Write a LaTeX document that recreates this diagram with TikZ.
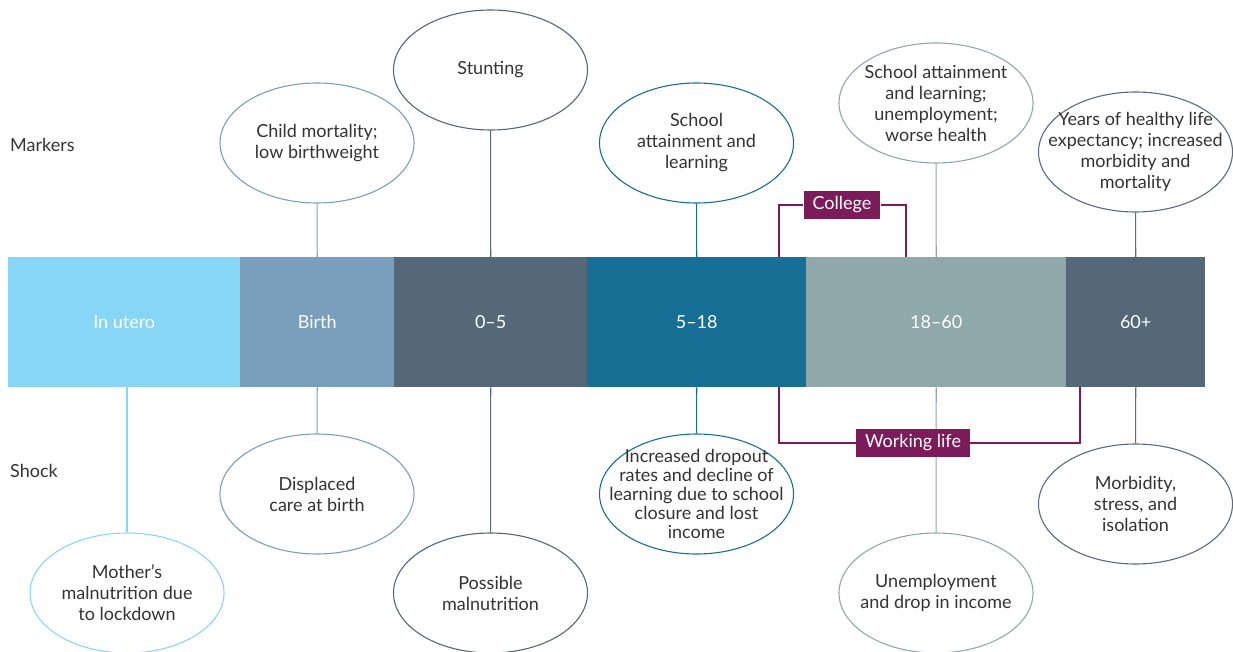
\documentclass[tikz,border=0pt]{standalone}
\usepackage{fontspec}
\setmainfont{Lato}
\usepackage{xcolor}
\usetikzlibrary{shapes.geometric,positioning}

\definecolor{uterocol}{HTML}{87D6F6}
\definecolor{birthcol}{HTML}{7A9FBC}
\definecolor{slatecol}{HTML}{546878}
\definecolor{schoolcol}{HTML}{176F96}
\definecolor{adultcol}{HTML}{8FA8A9}
\definecolor{oldcol}{HTML}{5B6A86}
\definecolor{plumcol}{HTML}{7B1B59}
\definecolor{textcol}{HTML}{333333}

\begin{document}
\begin{tikzpicture}[
        x=1pt, y=-1pt,
        font=\fontsize{18}{21}\selectfont,
        segment/.style={rectangle, anchor=north west, minimum height=130pt, inner sep=0pt, text=white},
        bubble/.style={ellipse, draw, line width=1.1pt, minimum width=194pt, minimum height=120pt, inner sep=-25pt, align=center, text=textcol},
        tie/.style={line width=1.1pt},
        bracket/.style={plumcol, line width=1.2pt},
        tag/.style={rectangle, fill=plumcol, text=white, minimum height=28pt, inner xsep=9pt, inner ysep=0pt}
    ]
        \useasboundingbox (0,0) rectangle (1233,652);

        % Age bar
        \node[segment, fill=uterocol, minimum width=232pt] (utero) at (8,257) {In utero};
        \node[segment, fill=birthcol, minimum width=154pt] (birth) at (240,257) {Birth};
        \node[segment, fill=slatecol, minimum width=193pt] (early) at (394,257) {0--5};
        \node[segment, fill=schoolcol, minimum width=219pt] (school) at (587,257) {5--18};
        \node[segment, fill=adultcol, minimum width=260pt] (adult) at (806,257) {18--60};
        \node[segment, fill=slatecol, minimum width=139pt] (old) at (1066,257) {60+};

        % Row labels
        \node[anchor=west, text=textcol, inner sep=0pt] (markers) at (10,145) {Markers};
        \node[anchor=west, text=textcol, inner sep=0pt] (shock) at (10,471) {Shock};

        % Markers
        \node[bubble, draw=birthcol] (mortality) at (317,143) {Child mortality;\\low birthweight};
        \node[bubble, draw=slatecol] (stunting) at (490.5,70) {Stunting};
        \node[bubble, draw=schoolcol] (attain) at (696.5,143) {School\\attainment and\\learning};
        \node[bubble, draw=adultcol] (health) at (936,103) {School attainment\\and learning;\\unemployment;\\worse health};
        \node[bubble, draw=oldcol] (lifeexp) at (1135.5,152) {Years of healthy life\\expectancy; increased\\morbidity and\\mortality};

        % Shocks
        \node[bubble, draw=uterocol] (mother) at (127,593) {Mother's\\malnutrition due\\to lockdown};
        \node[bubble, draw=birthcol] (displaced) at (317,494) {Displaced\\care at birth};
        \node[bubble, draw=slatecol] (malnut) at (490.5,593) {Possible\\malnutrition};
        \node[bubble, draw=schoolcol, font=\fontsize{18}{18.8}\selectfont] (dropout) at (696.5,494) {Increased dropout\\rates and decline of\\learning due to school\\closure and lost\\income};
        \node[bubble, draw=adultcol] (income) at (936,593) {Unemployment\\and drop in income};
        \node[bubble, draw=oldcol] (morbid) at (1135.5,504) {Morbidity,\\stress, and\\isolation};

        % Connections
        \draw[tie, birthcol] (mortality) -- (birth.north);
        \draw[tie, slatecol] (stunting) -- (early.north);
        \draw[tie, schoolcol] (attain) -- (school.north);
        \draw[tie, adultcol] (health) -- (adult.north);
        \draw[tie, oldcol] (lifeexp) -- (old.north);
        \draw[tie, uterocol] (mother) -- (mother |- utero.south);
        \draw[tie, birthcol] (displaced) -- (birth.south);
        \draw[tie, slatecol] (malnut) -- (early.south);
        \draw[tie, schoolcol] (dropout) -- (school.south);
        \draw[tie, adultcol] (income) -- (adult.south);
        \draw[tie, oldcol] (morbid) -- (old.south);

        % College and working life
        \coordinate (coll-l) at (779,257);
        \coordinate (coll-r) at (906,257);
        \coordinate (work-l) at (779,387);
        \coordinate (work-r) at (1080,387);
        \node[tag] (college) at (842,205) {College};
        \node[tag] (working) at (913,443) {Working life};
        \draw[bracket] (coll-l) |- (college) -| (coll-r);
        \draw[bracket] (work-l) |- (working) -| (work-r);
    \end{tikzpicture}
\end{document}
